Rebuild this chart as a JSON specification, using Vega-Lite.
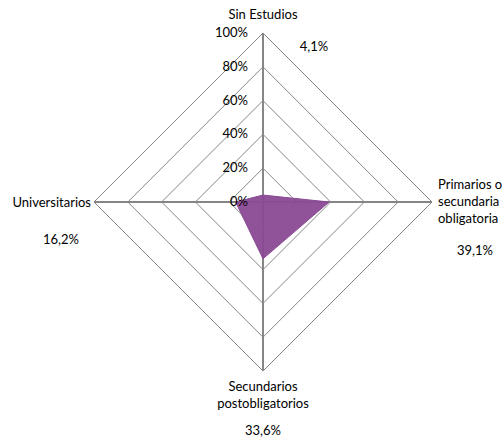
{
  "$schema": "https://vega.github.io/schema/vega-lite/v6.json",
  "width": 338,
  "height": 338,
  "autosize": "none",
  "padding": {"left": 94, "top": 33, "right": 70, "bottom": 70},
  "background": "white",
  "config": {"view": {"stroke": null}, "font": "Lato", "text": {"font": "Lato", "fontSize": 13, "fill": "#000000"}},
  "datasets": {
    "main": [
      {"cat": "Sin Estudios", "ord": 0, "value": 4.1},
      {"cat": "Primarios o secundaria obligatoria", "ord": 1, "value": 39.1},
      {"cat": "Secundarios postobligatorios", "ord": 2, "value": 33.6},
      {"cat": "Universitarios", "ord": 3, "value": 16.2}
    ],
    "grid": [
      {"level": 20, "ord": 0}, {"level": 20, "ord": 1}, {"level": 20, "ord": 2}, {"level": 20, "ord": 3},
      {"level": 40, "ord": 0}, {"level": 40, "ord": 1}, {"level": 40, "ord": 2}, {"level": 40, "ord": 3},
      {"level": 60, "ord": 0}, {"level": 60, "ord": 1}, {"level": 60, "ord": 2}, {"level": 60, "ord": 3},
      {"level": 80, "ord": 0}, {"level": 80, "ord": 1}, {"level": 80, "ord": 2}, {"level": 80, "ord": 3},
      {"level": 100, "ord": 0}, {"level": 100, "ord": 1}, {"level": 100, "ord": 2}, {"level": 100, "ord": 3}
    ],
    "ticks": [
      {"level": 0}, {"level": 20}, {"level": 40}, {"level": 60}, {"level": 80}, {"level": 100}
    ]
  },
  "layer": [
    {
      "data": {"name": "grid"},
      "transform": [
        {"calculate": "datum.ord == 1 ? datum.level : (datum.ord == 3 ? -datum.level : 0)", "as": "x"},
        {"calculate": "datum.ord == 0 ? datum.level : (datum.ord == 2 ? -datum.level : 0)", "as": "y"}
      ],
      "mark": {"type": "line", "interpolate": "linear-closed", "stroke": "#868686", "strokeWidth": 1},
      "encoding": {
        "x": {"field": "x", "type": "quantitative", "scale": {"domain": [-100, 100], "nice": false, "zero": false}, "axis": null},
        "y": {"field": "y", "type": "quantitative", "scale": {"domain": [-100, 100], "nice": false, "zero": false}, "axis": null},
        "detail": {"field": "level", "type": "nominal"},
        "order": {"field": "ord", "type": "quantitative"}
      }
    },
    {
      "data": {"name": "main"},
      "transform": [
        {"calculate": "datum.ord == 1 ? 100 : (datum.ord == 3 ? -100 : 0)", "as": "x"},
        {"calculate": "datum.ord == 0 ? 100 : (datum.ord == 2 ? -100 : 0)", "as": "y"},
        {"calculate": "0", "as": "x0"},
        {"calculate": "0", "as": "y0"}
      ],
      "mark": {"type": "rule", "stroke": "#868686", "strokeWidth": 2},
      "encoding": {
        "x": {"field": "x0", "type": "quantitative"},
        "y": {"field": "y0", "type": "quantitative"},
        "x2": {"field": "x"},
        "y2": {"field": "y"}
      }
    },
    {
      "data": {"name": "main"},
      "transform": [
        {"calculate": "datum.ord == 1 ? datum.value : (datum.ord == 3 ? -datum.value : 0)", "as": "x"},
        {"calculate": "datum.ord == 0 ? datum.value : (datum.ord == 2 ? -datum.value : 0)", "as": "y"}
      ],
      "mark": {"type": "line", "interpolate": "linear-closed", "fill": "#8a4a94", "fillOpacity": 0.95, "stroke": "#8a4a94", "strokeWidth": 1},
      "encoding": {
        "x": {"field": "x", "type": "quantitative"},
        "y": {"field": "y", "type": "quantitative"},
        "order": {"field": "ord", "type": "quantitative"}
      }
    },
    {
      "data": {"name": "ticks"},
      "transform": [
        {"calculate": "datum.level + '%'", "as": "label"},
        {"calculate": "0", "as": "x"}
      ],
      "mark": {"type": "text", "align": "right", "baseline": "middle", "dx": -15},
      "encoding": {
        "x": {"field": "x", "type": "quantitative"},
        "y": {"field": "level", "type": "quantitative"},
        "text": {"field": "label"}
      }
    },
    {
      "data": {"name": "main"},
      "transform": [
        {"calculate": "replace(format(datum.value, '.1f'), '.', ',') + '%'", "as": "vlabel"},
        {"filter": "datum.ord == 0"},
        {"calculate": "0", "as": "x"},
        {"calculate": "100", "as": "y"}
      ],
      "layer": [
        {
          "mark": {"type": "text", "align": "center", "baseline": "middle", "dy": -18},
          "encoding": {"x": {"field": "x", "type": "quantitative"}, "y": {"field": "y", "type": "quantitative"}, "text": {"field": "cat"}}
        },
        {
          "mark": {"type": "text", "align": "center", "baseline": "middle", "dx": 51, "dy": 14},
          "encoding": {"x": {"field": "x", "type": "quantitative"}, "y": {"field": "y", "type": "quantitative"}, "text": {"field": "vlabel"}}
        }
      ]
    },
    {
      "data": {"name": "main"},
      "transform": [
        {"calculate": "replace(format(datum.value, '.1f'), '.', ',') + '%'", "as": "vlabel"},
        {"filter": "datum.ord == 1"},
        {"calculate": "100", "as": "x"},
        {"calculate": "0", "as": "y"},
        {"calculate": "'Primarios o\\nsecundaria\\nobligatoria'", "as": "wrapped"}
      ],
      "layer": [
        {
          "mark": {"type": "text", "align": "left", "baseline": "middle", "dx": 6, "dy": -17, "lineBreak": "\n", "lineHeight": 17},
          "encoding": {"x": {"field": "x", "type": "quantitative"}, "y": {"field": "y", "type": "quantitative"}, "text": {"field": "wrapped"}}
        },
        {
          "mark": {"type": "text", "align": "center", "baseline": "middle", "dx": 43, "dy": 49},
          "encoding": {"x": {"field": "x", "type": "quantitative"}, "y": {"field": "y", "type": "quantitative"}, "text": {"field": "vlabel"}}
        }
      ]
    },
    {
      "data": {"name": "main"},
      "transform": [
        {"calculate": "replace(format(datum.value, '.1f'), '.', ',') + '%'", "as": "vlabel"},
        {"filter": "datum.ord == 2"},
        {"calculate": "0", "as": "x"},
        {"calculate": "-100", "as": "y"},
        {"calculate": "'Secundarios\\npostobligatorios'", "as": "wrapped"}
      ],
      "layer": [
        {
          "mark": {"type": "text", "align": "center", "baseline": "middle", "dy": 16, "lineBreak": "\n", "lineHeight": 17},
          "encoding": {"x": {"field": "x", "type": "quantitative"}, "y": {"field": "y", "type": "quantitative"}, "text": {"field": "wrapped"}}
        },
        {
          "mark": {"type": "text", "align": "center", "baseline": "middle", "dy": 60},
          "encoding": {"x": {"field": "x", "type": "quantitative"}, "y": {"field": "y", "type": "quantitative"}, "text": {"field": "vlabel"}}
        }
      ]
    },
    {
      "data": {"name": "main"},
      "transform": [
        {"calculate": "replace(format(datum.value, '.1f'), '.', ',') + '%'", "as": "vlabel"},
        {"filter": "datum.ord == 3"},
        {"calculate": "-100", "as": "x"},
        {"calculate": "0", "as": "y"}
      ],
      "layer": [
        {
          "mark": {"type": "text", "align": "right", "baseline": "middle", "dx": -3, "dy": 1},
          "encoding": {"x": {"field": "x", "type": "quantitative"}, "y": {"field": "y", "type": "quantitative"}, "text": {"field": "cat"}}
        },
        {
          "mark": {"type": "text", "align": "center", "baseline": "middle", "dx": -33, "dy": 38},
          "encoding": {"x": {"field": "x", "type": "quantitative"}, "y": {"field": "y", "type": "quantitative"}, "text": {"field": "vlabel"}}
        }
      ]
    }
  ]
}
